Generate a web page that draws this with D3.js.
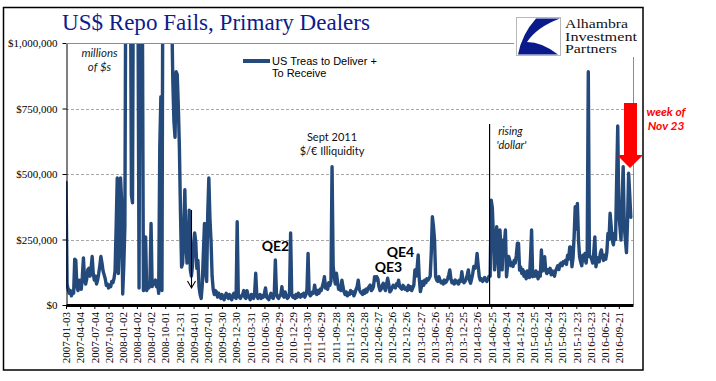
<!DOCTYPE html>
<html><head><meta charset="utf-8">
<script src="https://cdn.jsdelivr.net/npm/d3@7"></script>
<style>body{margin:0;background:#fff} svg{display:block}</style>
</head><body><svg id="c" width="716" height="381"></svg>
<script>
// Weekly values (millions of $), starting 2007-01-03
const fails2007 = [
 468000, 80000, 60000, 45000, 55000, 35000, 50000, 45000, 175000, 170000, 70000, 55000, 95000,
 70000, 60000, 110000, 180000, 95000, 80000, 100000, 135000, 140000, 110000, 140000, 185000, 120000,
 95000, 110000, 80000, 95000, 120000, 150000, 185000, 160000, 130000, 115000, 100000, 75000, 80000,
 65000, 75000, 70000, 90000, 85000, 100000, 130000, 300000, 485000, 120000, 250000, 485000, 400000];
const fails2008 = [
 42000, 150000, 300000, 1500000, 1800000, 1300000, 1600000, 1400000, 420000, 390000, 1600000, 2000000, 1700000,
 1900000, 1200000, 65000, 1500000, 1800000, 1200000, 55000, 60000, 260000, 55000, 70000, 65000, 90000,
 311000, 70000, 90000, 80000, 95000, 70000, 85000, 45000, 600000, 795000, 55000, 1600000, 2200000,
 2400000, 2200000, 2000000, 1800000, 1500000, 1400000, 1100000, 850000, 700000, 640000, 890000, 880000, 760000];
const fails2009 = [
 600000, 350000, 145000, 160000, 300000, 440000, 230000, 160000, 200000, 362000, 135000, 110000, 150000,
 230000, 275000, 240000, 140000, 170000, 70000, 40000, 25000, 80000, 200000, 311000, 121000, 90000,
 350000, 485000, 330000, 245000, 110000, 60000, 40000, 55000, 50000, 30000, 45000, 35000, 25000,
 40000, 30000, 20000, 35000, 45000, 30000, 25000, 40000, 30000, 20000, 35000, 45000, 30000];
const fails2010 = [
 25000, 318000, 40000, 30000, 25000, 35000, 40000, 55000, 30000, 25000, 55000, 35000, 30000,
 20000, 40000, 30000, 25000, 45000, 121000, 35000, 25000, 30000, 40000, 25000, 35000, 30000,
 45000, 65000, 30000, 25000, 20000, 35000, 45000, 30000, 25000, 40000, 172000, 45000, 30000,
 25000, 35000, 40000, 70000, 35000, 30000, 50000, 35000, 25000, 30000, 45000, 275000, 40000];
const fails2011 = [
 30000, 35000, 25000, 40000, 30000, 45000, 35000, 30000, 40000, 35000, 45000, 30000, 40000,
 60000, 197000, 45000, 35000, 40000, 50000, 45000, 76000, 50000, 40000, 55000, 45000, 60000,
 55000, 70000, 85000, 108000, 65000, 80000, 60000, 85000, 75000, 90000, 528000, 150000, 108000,
 80000, 121000, 90000, 60000, 70000, 55000, 95000, 70000, 50000, 40000, 50000, 35000, 45000];
const fails2012 = [
 40000, 55000, 45000, 50000, 35000, 45000, 60000, 70000, 95000, 60000, 50000, 45000, 40000,
 55000, 45000, 60000, 50000, 65000, 70000, 76000, 55000, 60000, 70000, 108000, 95000, 108000,
 100000, 70000, 55000, 60000, 75000, 83000, 65000, 55000, 80000, 102000, 80000, 50000, 55000,
 65000, 75000, 70000, 65000, 80000, 75000, 95000, 70000, 65000, 60000, 75000, 70000, 60000];
const fails2013 = [
 65000, 55000, 75000, 60000, 70000, 55000, 65000, 76000, 134000, 110000, 140000, 191000, 100000,
 51000, 70000, 90000, 75000, 95000, 85000, 100000, 95000, 102000, 110000, 200000, 337000, 300000,
 248000, 108000, 95000, 90000, 108000, 95000, 85000, 90000, 80000, 95000, 85000, 90000, 100000,
 115000, 134000, 100000, 85000, 90000, 80000, 95000, 85000, 90000, 80000, 95000, 90000, 127000];
const fails2014 = [
 95000, 85000, 90000, 100000, 115000, 134000, 95000, 83000, 100000, 120000, 147000, 140000, 150000,
 197000, 150000, 108000, 95000, 100000, 90000, 95000, 105000, 95000, 90000, 100000, 110000, 110000,
 400000, 370000, 260000, 134000, 200000, 299000, 200000, 108000, 286000, 200000, 134000, 248000, 230000,
 286000, 108000, 150000, 185000, 170000, 150000, 160000, 147000, 170000, 160000, 190000, 236000, 235000];
const fails2015 = [
 133000, 145000, 120000, 135000, 110000, 125000, 100000, 130000, 115000, 105000, 180000, 286000, 108000,
 120000, 110000, 130000, 115000, 100000, 125000, 110000, 210000, 130000, 150000, 184000, 130000, 120000,
 135000, 125000, 140000, 115000, 130000, 120000, 110000, 130000, 140000, 150000, 135000, 155000, 160000,
 150000, 165000, 160000, 170000, 155000, 190000, 175000, 222000, 220000, 146000, 180000, 260000, 375000];
const fails2016 = [
 290000, 388000, 250000, 184000, 165000, 150000, 190000, 170000, 197000, 160000, 200000, 890000, 185000,
 184000, 175000, 160000, 200000, 260000, 146000, 170000, 180000, 165000, 197000, 210000, 185000, 170000,
 190000, 175000, 200000, 273000, 250000, 350000, 300000, 248000, 230000, 273000, 250000, 477000, 683000,
 350000, 300000, 248000, 400000, 528000, 298000, 250000, 200000, 320000, 503000, 420000, 335000];

const xTickLabels = ["2007-01-03","2007-04-04","2007-07-04","2007-10-03","2008-01-02","2008-04-02","2008-07-02","2008-10-01",
 "2008-12-31","2009-04-01","2009-07-01","2009-09-30","2009-12-30","2010-03-31","2010-06-30","2010-09-29","2010-12-29",
 "2011-03-30","2011-06-29","2011-09-28","2011-12-28","2012-03-28","2012-06-27","2012-09-26","2012-12-26","2013-03-27",
 "2013-06-26","2013-09-25","2013-12-25","2014-03-26","2014-06-25","2014-09-24","2014-12-24","2015-03-25","2015-06-24",
 "2015-09-23","2015-12-23","2016-03-23","2016-06-22","2016-09-21"];
const yTickValues = [0, 250000, 500000, 750000, 1000000];
const legendLines = ["US Treas to Deliver +", "To Receive"];
const titleText = "US$ Repo Fails, Primary Dealers";
const logoLines = ["Alhambra", "Investment", "Partners"];

const fails = [].concat(fails2007, fails2008, fails2009, fails2010, fails2011,
  fails2012, fails2013, fails2014, fails2015, fails2016);

const svg = d3.select("#c");
const L = 66, R = 633, T = 43, B = 305;
const x = d3.scaleLinear().domain([0, 520]).range([L, R]);
const y = d3.scaleLinear().domain([0, 1000000]).range([B, T]);
const blue = "#24497b";

// outer frame
svg.append("rect").attr("x", 3.5).attr("y", 7.5).attr("width", 639.5).attr("height", 362.5)
  .attr("fill", "#fff").attr("stroke", "#000").attr("stroke-width", 1.5);

// title
svg.append("text").attr("x", 62).attr("y", 30).text(titleText)
  .attr("font-family", "Liberation Serif").attr("font-size", 24).attr("fill", "#0e1c8c")
  .attr("textLength", 308).attr("lengthAdjust", "spacingAndGlyphs");

// gridlines
svg.append("g").selectAll("line").data(yTickValues.filter(v => v > 0 && v < 1000000)).join("line")
  .attr("x1", L).attr("x2", R).attr("y1", d => Math.round(y(d)) + 0.5).attr("y2", d => Math.round(y(d)) + 0.5)
  .attr("stroke", "#a8a8a8").attr("stroke-dasharray", "3,2");
// plot border top + right
svg.append("path").attr("d", `M${L},${T + 0.5}H${R + 0.5}V${B}`).attr("fill", "none")
  .attr("stroke", "#8c8c8c").attr("stroke-width", 1);

// series line
svg.append("clipPath").attr("id", "pc").append("rect")
  .attr("x", L).attr("y", T).attr("width", R - L).attr("height", B - T);
const line = d3.line().x((d, i) => x(i)).y(d => y(d));
svg.append("path").datum(fails).attr("clip-path", "url(#pc)").attr("d", line)
  .attr("fill", "none").attr("stroke", blue).attr("stroke-width", 3.4)
  .attr("stroke-linejoin", "round").attr("stroke-linecap", "round");

// y axis
const yAxis = svg.append("g").attr("transform", `translate(${L + 0.5},0)`)
  .call(d3.axisLeft(y).tickValues(yTickValues).tickSize(4).tickSizeOuter(0)
    .tickFormat(d => "$" + d3.format(",")(d)));
yAxis.select(".domain").attr("stroke", "#000");
yAxis.selectAll("text").attr("font-family", "Liberation Serif").attr("font-size", 11)
  .attr("fill", "#000").attr("x", -9).attr("dy", "0.34em");

// x axis
const xAxis = svg.append("g").attr("transform", `translate(0,${B})`)
  .call(d3.axisBottom(x).tickValues(d3.range(0, xTickLabels.length * 13, 13)).tickSize(4).tickSizeOuter(0)
    .tickFormat((d, i) => xTickLabels[i]));
xAxis.select(".domain").attr("stroke", "#000").attr("stroke-width", 3);
xAxis.selectAll(".tick line").attr("stroke", "#000");
xAxis.selectAll("text").attr("font-family", "Liberation Serif").attr("font-size", 11).attr("fill", "#000")
  .attr("transform", "rotate(-90)").attr("text-anchor", "end").attr("x", -7).attr("y", 0).attr("dy", "0.34em");

// legend
svg.append("line").attr("x1", 243).attr("x2", 270).attr("y1", 61).attr("y2", 61)
  .attr("stroke", blue).attr("stroke-width", 4);
svg.append("g").selectAll("text").data(legendLines).join("text")
  .attr("x", 272).attr("y", (d, i) => 65 + i * 12).text(d => d)
  .attr("font-family", "Liberation Sans").attr("font-size", 11).attr("fill", "#000");

// annotations
function txt(t, xx, yy, opts) {
  const o = Object.assign({size: 11, weight: "normal", style: "normal", fill: "#111", anchor: "middle", family: "Lato"}, opts || {});
  svg.append("text").attr("x", xx).attr("y", yy).text(t).attr("font-family", o.family)
    .attr("font-size", o.size).attr("font-weight", o.weight).attr("font-style", o.style)
    .attr("fill", o.fill).attr("text-anchor", o.anchor);
}
txt("millions", 99.5, 57, {size: 11.5, style: "italic", fill: "#1c1c28"});
txt("of $s", 99.5, 70.5, {size: 11.5, style: "italic", fill: "#1c1c28"});
txt("Sept 2011", 332, 141, {size: 11});
txt("$/€ Illiquidity", 332, 155, {size: 11});
txt("QE2", 275.5, 251, {size: 14, weight: "bold", fill: "#000"});
txt("QE3", 388.5, 272, {size: 14, weight: "bold", fill: "#000"});
txt("QE4", 400.5, 257, {size: 14, weight: "bold", fill: "#000"});
txt("rising", 510.5, 135, {size: 11, style: "italic"});
txt("'dollar'", 511.5, 149, {size: 11, style: "italic"});
txt("week of", 666, 116, {size: 12, weight: "bold", style: "italic", fill: "#ff0000"});
txt("Nov 23", 666, 130, {size: 12, weight: "bold", style: "italic", fill: "#ff0000"});

// vertical marker line (mid-2014)
svg.append("line").attr("x1", x(388) + 0.5).attr("x2", x(388) + 0.5).attr("y1", 124).attr("y2", B)
  .attr("stroke", "#000").attr("stroke-width", 1.2);
// arrow in 2009
const ax = Math.round(x(115)) + 0.5;
svg.append("path").attr("d", `M${ax},210V288M${ax - 4},281L${ax},288L${ax + 4},281`)
  .attr("fill", "none").attr("stroke", "#000").attr("stroke-width", 1.1);

// red arrow
svg.append("path").attr("d", "M624,103H637V155H643L630,168L617,155H624Z").attr("fill", "#ff0000");

// logo
svg.append("rect").attr("x", 514).attr("y", 14).attr("width", 127).attr("height", 43).attr("fill", "#fff");
svg.append("path").attr("d", `M${L},${T + 0.5}H514`).attr("stroke", "#8c8c8c");
svg.append("rect").attr("x", 516.5).attr("y", 17.5).attr("width", 44).attr("height", 38)
  .attr("fill", "#fff").attr("stroke", "#b8b8b8").attr("stroke-width", 1);
svg.append("path").attr("d", "M536,18.5L560,18.5Q537,27 527,42Q542,42 558,54.5L518,54.5Q522,34 536,18.5Z")
  .attr("fill", "#0a1a8a");
svg.append("g").selectAll("text").data(logoLines).join("text")
  .attr("x", 565).attr("y", (d, i) => 28 + i * 12.5).text(d => d)
  .attr("font-family", "Liberation Serif").attr("font-size", 12.5).attr("fill", "#111")
  .attr("textLength", (d, i) => [63, 72, 52][i]).attr("lengthAdjust", "spacingAndGlyphs");
</script></body></html>
